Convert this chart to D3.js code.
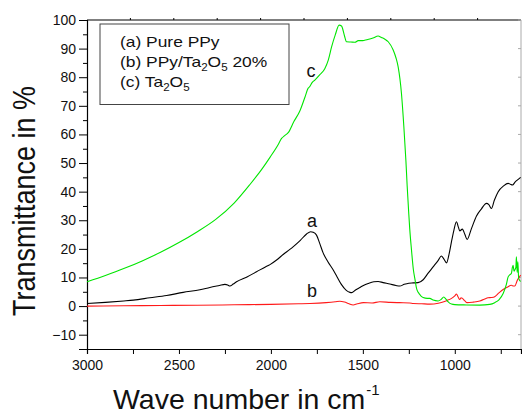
<!DOCTYPE html>
<html>
<head>
<meta charset="utf-8">
<script src="https://cdn.jsdelivr.net/npm/d3@7"></script>
<style>
  html, body { margin: 0; padding: 0; background: #fff; }
  svg { display: block; font-family: "Liberation Sans", Arial, sans-serif; }
</style>
</head>
<body>
<svg id="chart" width="522" height="415"></svg>
<script>
// FTIR transmittance spectra (wavenumber in cm^-1, transmittance in %)
const waveA = [3000,2900,2800,2748,2658,2567,2477,2386,2332,2280,2250,2235,2223,2205,2187,2130,2078,2030,2005,1969,1930,1897,1878,1840,1806,1784,1770,1752,1735,1716,1690,1661,1640,1616,1590,1570,1561,1540,1516,1497,1471,1440,1417,1390,1353,1320,1299,1275,1250,1226,1200,1172,1145,1118,1090,1073,1060,1045,1030,1018,1005,991,980,973,959,945,933,910,882,855,828,815,801,785,764,735,710,698,687,670,655,642];
const pureA = [0.9,1.3,1.8,2.1,2.9,3.7,4.8,5.7,6.5,7.2,7.6,7.4,7.0,7.7,8.5,10.2,12.0,13.7,14.5,16.1,18.2,19.8,20.8,23.0,25.2,26.0,25.8,24.8,22.0,18.6,15.5,12.6,10.2,7.5,5.5,4.8,4.7,5.6,6.5,7.2,7.9,8.5,8.6,8.2,7.7,7.2,7.0,7.6,8.0,8.1,8.2,9.2,11.5,13.7,16.0,17.5,16.5,15.1,18.5,22.5,26.5,29.5,27.5,26.3,26.9,25.0,23.3,27.0,31.5,34.0,35.9,35.5,34.1,37.0,40.0,42.0,42.9,42.6,42.3,43.5,44.3,45.0];

const waveB = [3000,2800,2600,2400,2200,2000,1850,1788,1700,1650,1625,1600,1575,1553,1530,1497,1450,1408,1350,1300,1245,1226,1180,1136,1090,1060,1045,1020,1000,991,982,973,966,959,945,933,900,864,840,819,800,783,760,737,715,692,682,674,660,642];
const compB = [0.0,0.1,0.2,0.3,0.45,0.6,0.8,0.9,1.2,1.5,1.7,1.4,0.8,0.4,0.8,1.2,1.1,1.5,1.3,1.2,1.1,0.9,0.8,0.7,1.0,1.5,1.9,2.6,3.6,4.2,3.2,2.3,2.9,2.7,1.8,1.2,1.4,1.8,2.4,2.9,3.0,3.3,4.6,5.8,6.6,7.3,7.0,7.0,9.0,10.8];

const waveC = [3000,2900,2800,2700,2600,2500,2400,2300,2200,2114,2050,2005,1960,1942,1925,1906,1875,1842,1815,1797,1790,1775,1761,1735,1707,1688,1670,1650,1629,1616,1600,1589,1565,1543,1525,1500,1480,1445,1417,1399,1380,1362,1335,1320,1308,1290,1277,1266,1259,1250,1245,1236,1225,1217,1208,1199,1185,1172,1150,1136,1118,1091,1075,1060,1048,1036,1018,1000,937,864,810,783,760,737,720,710,700,692,687,683,678,674,668,665,661,657,653,648,642];
const oxideC = [8.5,10.7,13.1,15.8,18.8,22.2,26.0,30.3,36.0,42.5,47.8,52.0,56.5,58.6,59.6,60.6,64.5,68.3,73.0,76.2,76.6,78.2,79.0,80.8,83.0,86.0,90.6,94.8,98.2,97.9,94.5,92.4,92.3,92.2,92.8,92.8,93.1,93.7,94.4,93.9,93.3,92.4,89.5,86.8,83.6,74.3,62.7,51.0,42.0,32.0,27.0,20.0,12.6,9.5,6.2,4.8,3.6,3.0,2.7,2.7,2.1,1.8,2.3,3.2,2.4,1.5,0.7,0.5,0.4,0.35,0.6,1.2,2.2,4.4,7.5,10.2,11.0,11.5,13.5,14.3,12.2,12.6,13.5,17.2,11.8,15.5,10.0,9.0,8.6];

const seriesNames = ["a", "b", "c"];
const seriesColors = ["#000000", "#ff1a1a", "#00e600"];
const legendLines = [
  [{t: "(a) Pure PPy"}],
  [{t: "(b) PPy/Ta"}, {t: "2", sub: true}, {t: "O"}, {t: "5", sub: true}, {t: " 20%"}],
  [{t: "(c) Ta"}, {t: "2", sub: true}, {t: "O"}, {t: "5", sub: true}]
];
const xMajorTicks = [3000, 2500, 2000, 1500, 1000];
const xMinorTicks = [2750, 2250, 1750, 1250, 750];
const yMajorTicks = [-10, 0, 10, 20, 30, 40, 50, 60, 70, 80, 90, 100];
const yMinorTicks = [-15, -5, 5, 15, 25, 35, 45, 55, 65, 75, 85, 95];

const svg = d3.select("#chart");
const plotL = 87, plotR = 521, plotT = 20, plotB = 349;

const x = d3.scaleLinear().domain([3000, 640]).range([plotL, plotR]);
const y = d3.scaleLinear().domain([-15, 100]).range([plotB, plotT]);

// frame: top line with small ticks, light right edge
svg.append("line").attr("x1", plotL).attr("x2", plotR).attr("y1", plotT).attr("y2", plotT)
  .attr("stroke", "#000").attr("stroke-width", 1.2);
const topTicks = d3.range(1, 10).map(i => plotL + i * (plotR - plotL) / 10);
svg.selectAll(".ttick").data(topTicks).join("line")
  .attr("x1", d => d).attr("x2", d => d).attr("y1", plotT - 2).attr("y2", plotT)
  .attr("stroke", "#000").attr("stroke-width", 1);
svg.append("line").attr("x1", plotR).attr("x2", plotR).attr("y1", plotT).attr("y2", plotB)
  .attr("stroke", "#aaa").attr("stroke-width", 1);
svg.selectAll(".rtick").data(yMajorTicks).join("line")
  .attr("x1", plotR - 3).attr("x2", plotR).attr("y1", d => y(d)).attr("y2", d => y(d))
  .attr("stroke", "#aaa").attr("stroke-width", 1);

// bottom axis
svg.append("g").attr("transform", `translate(0,${plotB})`)
  .call(d3.axisBottom(x).tickValues(xMajorTicks).tickSize(5).tickPadding(6).tickFormat(d3.format("d")));
svg.append("g").attr("transform", `translate(0,${plotB})`)
  .call(d3.axisBottom(x).tickValues(xMinorTicks).tickSize(5).tickFormat(""))
  .call(g => g.select(".domain").remove());

// left axis
svg.append("g").attr("transform", `translate(${plotL},0)`)
  .call(d3.axisLeft(y).tickValues(yMajorTicks).tickSize(8).tickPadding(3).tickFormat(d3.format("d")));
svg.append("g").attr("transform", `translate(${plotL},0)`)
  .call(d3.axisLeft(y).tickValues(yMinorTicks).tickSize(4).tickFormat(""))
  .call(g => g.select(".domain").remove());

svg.selectAll(".domain").attr("stroke", "#000").attr("stroke-width", 1.2);
svg.selectAll(".tick line").attr("stroke", "#000").attr("stroke-width", 1);
svg.selectAll(".tick text").attr("font-family", "Liberation Sans, Arial, sans-serif")
  .attr("font-size", 14).attr("fill", "#111");

// spectra
const line = d3.line().x(d => x(d[0])).y(d => y(d[1])).curve(d3.curveMonotoneX);
const data = [
  d3.zip(waveA, pureA),
  d3.zip(waveB, compB),
  d3.zip(waveC, oxideC)
];
svg.append("g").selectAll("path").data(data).join("path")
  .attr("d", line)
  .attr("fill", "none")
  .attr("stroke", (d, i) => seriesColors[i])
  .attr("stroke-width", 1.1);

// curve labels
const labelPos = [[312, 227], [312, 297], [311, 77]];
svg.selectAll(".clabel").data(seriesNames).join("text")
  .attr("x", (d, i) => labelPos[i][0]).attr("y", (d, i) => labelPos[i][1])
  .attr("text-anchor", "middle").attr("font-size", 18).attr("fill", "#111")
  .text(d => d);

// legend box
svg.append("rect").attr("x", 100).attr("y", 24).attr("width", 189).attr("height", 80.5)
  .attr("fill", "#fff").attr("stroke", "#444").attr("stroke-width", 1);
legendLines.forEach((parts, i) => {
  const t = svg.append("text")
    .attr("transform", `translate(120,${46.7 + i * 20}) scale(1.16,1)`)
    .attr("font-size", 15).attr("fill", "#111");
  parts.forEach((p, j) => {
    const s = t.append("tspan").text(p.t);
    if (p.sub) s.attr("font-size", 10).attr("dy", 4);
    else if (j > 0) s.attr("dy", -4);
  });
});

// axis titles
const xt = svg.append("text").attr("x", 113).attr("y", 409).attr("font-size", 28.5).attr("fill", "#111");
xt.append("tspan").text("Wave number in cm");
xt.append("tspan").text("-1").attr("font-size", 15).attr("dy", -14).attr("dx", 1);

svg.append("text")
  .attr("transform", "translate(35,201) rotate(-90) scale(1,1.18)")
  .attr("text-anchor", "middle").attr("font-size", 27).attr("fill", "#111")
  .text("Transmittance in %");
</script>
</body>
</html>
